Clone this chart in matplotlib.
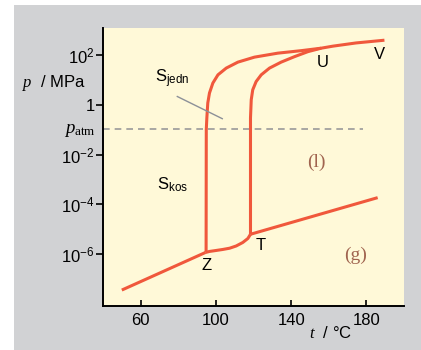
import numpy as np
import matplotlib
matplotlib.use("Agg")
import matplotlib.pyplot as plt
from matplotlib.patches import Rectangle
from matplotlib.ticker import NullLocator

plt.rcParams['font.family'] = ['Liberation Sans', 'DejaVu Sans']
plt.rcParams['mathtext.fontset'] = 'custom'
plt.rcParams['mathtext.rm'] = 'Liberation Serif'
plt.rcParams['mathtext.it'] = 'Liberation Serif:italic'
plt.rcParams['mathtext.bf'] = 'Liberation Serif:bold'
plt.rcParams['mathtext.sf'] = 'Liberation Sans'

# sublimation curve (rhombic S -> vapour), 50 C .. Z
sub_t = [50, 94.5]
sub_logp = [-7.44, -5.93]
# monoclinic S -> vapour, Z .. T
mono_t = [94.5, 96.6, 100.2, 103.7, 107.3, 110.8, 114.3, 117.0, 118.4]
mono_logp = [-5.93, -5.89, -5.85, -5.81, -5.76, -5.67, -5.53, -5.37, -5.2]
# liquid -> vapour, T .. 186 C
liq_t = [118.4, 186]
liq_logp = [-5.2, -3.73]
# rhombic / monoclinic boundary, Z .. U .. V
rm_t = [94.8, 94.9, 95.2, 95.7, 96.6, 98.4, 101.1, 105.5, 111.7, 120.5, 132.9,
        145.3, 156.0, 162.1, 174.5, 189.6]
rm_logp = [-5.93, -1.0, -0.53, 0.07, 0.47, 0.87, 1.2, 1.47, 1.71, 1.91, 2.07,
           2.17, 2.27, 2.35, 2.48, 2.59]
# monoclinic / liquid boundary, T .. U
ml_t = [118.4, 118.4, 118.4, 118.8, 119.6, 121.4, 124.1, 128.5, 134.7, 141.8, 148.9, 156.0]
ml_logp = [-5.2, -1.0, -0.53, 0.2, 0.6, 0.93, 1.2, 1.47, 1.71, 1.93, 2.13, 2.27]

p_atm = 0.101325
yticks = [1e2, 1, 1e-2, 1e-4, 1e-6]
ytick_labels = [r'$\mathregular{10^{2}}$', '1', r'$\mathregular{10^{-2}}$',
                r'$\mathregular{10^{-4}}$', r'$\mathregular{10^{-6}}$']
xticks = [60, 100, 140, 180]

red = '#f0583c'

fig = plt.figure(figsize=(4.21, 3.5), dpi=100)
fig.patch.set_facecolor('white')
fig.patches.append(Rectangle((14 / 421, 0), 1, 1 - 5 / 350, transform=fig.transFigure,
                             facecolor='#d1d2d4', edgecolor='none', zorder=-10))
ax = fig.add_axes([103 / 421, 44 / 350, 301 / 421, 278 / 350])
ax.set_facecolor('#fff9d8')

for t, lp in [(sub_t, sub_logp), (mono_t, mono_logp), (liq_t, liq_logp),
              (rm_t, rm_logp), (ml_t, ml_logp)]:
    ax.plot(t, np.power(10.0, lp), color=red, lw=2.2, solid_capstyle='butt',
            solid_joinstyle='round')

ax.plot([40, 178], [p_atm, p_atm], color='#9a9a9a', lw=1.2, ls=(0, (4, 3)), zorder=1)
ax.plot([79.5, 103.4], [10 ** 0.33, 10 ** -0.56], color='#8c9098', lw=1.0)

ax.set_yscale('log')
ax.set_xlim(40, 200)
ax.set_ylim(10 ** -8.08, 10 ** 3.08)
ax.set_yticks(yticks)
ax.set_yticklabels(ytick_labels)
ax.yaxis.set_minor_locator(NullLocator())
ax.set_xticks(xticks)

for s in ['top', 'right']:
    ax.spines[s].set_visible(False)
for s in ['left', 'bottom']:
    ax.spines[s].set_linewidth(1.4)
ax.tick_params(axis='y', direction='out', length=5, width=1.2, pad=1, labelsize=12)
ax.tick_params(axis='x', direction='in', length=4, width=1.2, pad=5, labelsize=12)

ax.text(-0.056, 0.802, r'$p$  / MPa', transform=ax.transAxes, ha='right', va='center', fontsize=12)
ax.text(-0.024, 0.63, r'$p_{\mathrm{atm}}$', transform=ax.transAxes, ha='right', va='center', fontsize=13.5)
ax.text(0.827, -0.097, r'$t$  / °C', transform=ax.transAxes, ha='right', va='center', fontsize=12)

ax.text(77, 10 ** 1.05, r'S$_{\mathsf{jedn}}$', ha='center', va='center', fontsize=12)
ax.text(77, 10 ** -3.2, r'S$_{\mathsf{kos}}$', ha='center', va='center', fontsize=12)
ax.text(156.7, 10 ** 1.68, 'U', ha='center', va='center', fontsize=12)
ax.text(187, 10 ** 2.0, 'V', ha='center', va='center', fontsize=12)
ax.text(94.9, 10 ** -6.44, 'Z', ha='center', va='center', fontsize=12)
ax.text(123.6, 10 ** -5.67, 'T', ha='center', va='center', fontsize=12)
ax.text(153.3, 10 ** -2.3, '(l)', ha='center', va='center', fontsize=14,
        family='Liberation Serif', color='#a0644f')
ax.text(174.5, 10 ** -6.04, '(g)', ha='center', va='center', fontsize=14,
        family='Liberation Serif', color='#a0644f')

fig.savefig('out.png', dpi=100)
